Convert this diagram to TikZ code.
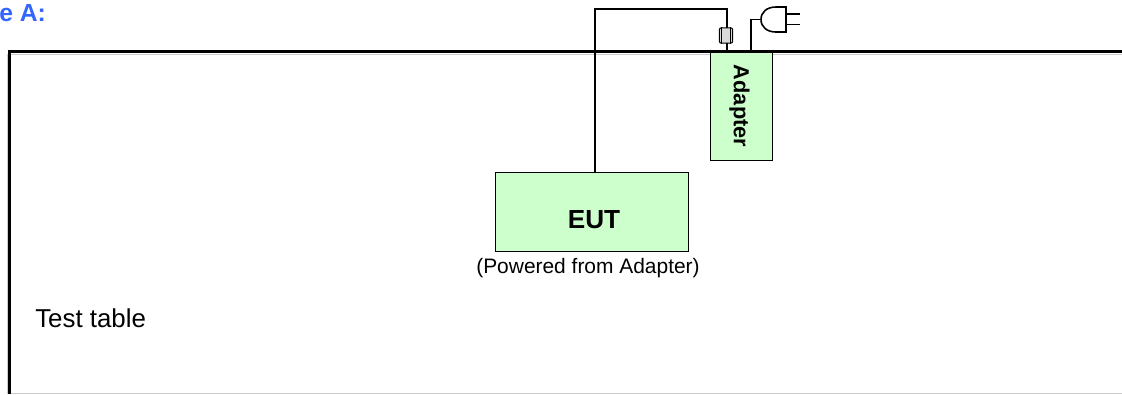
\documentclass[tikz,border=0pt]{standalone}
\usepackage{fontspec}
\setmainfont{Liberation Sans}
\usetikzlibrary{positioning,calc}
\definecolor{boxgreen}{HTML}{CCFFCC}
\definecolor{titleblue}{HTML}{3366FF}
\definecolor{ferritegray}{HTML}{D9D9D9}
\begin{document}
\begin{tikzpicture}[
    x=0.75pt, y=-0.75pt,
    cable/.style={draw=black, line width=1.2pt},
    unitbox/.style={draw=black, fill=boxgreen, line width=0.75pt, inner sep=0pt, font=\bfseries}
]
    \useasboundingbox (0, 0) rectangle (1122, 394);

    % 1. Test table
    \draw[draw=gray!40, line width=0.75pt] (7.5, 54) -| (1122, 393) -| (7.5, 54);
    \draw[draw=black, line width=2.5pt] (1122, 51.5) -- (9.5, 51.5) -- (9.5, 394);
    \node[anchor=west, inner sep=0pt, font=\fontsize{19.4}{23}\selectfont] (tablelabel) at (35, 318) {Test table};

    % 2. Title
    \node[anchor=west, inner sep=0pt, text=titleblue, font=\bfseries\fontsize{18.5}{22}\selectfont] (title) at (-1, 13) {e A:};

    % 3. Units
    \node[unitbox, minimum width=144.75pt, minimum height=59.25pt] (eut) at (591.5, 211.5) {};
    \node[inner sep=0pt, font=\bfseries\fontsize{19.6}{23}\selectfont] (eutlabel) at (594, 220) {EUT};
    \node[anchor=north, inner sep=0pt, font=\fontsize{15.7}{19}\selectfont] (eutnote) at (588, 258) {(Powered from Adapter)};
    \node[unitbox, minimum width=46pt, minimum height=81pt, font=\bfseries\fontsize{16.3}{20}\selectfont] (adapter) at (741.5, 106) {\hspace{-3pt}\rotatebox{-90}{Adapter}};

    % 4. Cable with ferrite
    \node[draw=black, fill=ferritegray, rounded corners=1.5pt, line width=0.75pt, minimum width=10pt, minimum height=11.5pt, inner sep=0pt] (ferrite) at (726, 35.5) {};
    \draw[draw=black, line width=0.6pt] ($(ferrite.north west)+(3,0)$) -- ($(ferrite.south west)+(3,0)$);
    \draw[draw=black, line width=0.6pt] ($(ferrite.north east)+(-3,0)$) -- ($(ferrite.south east)+(-3,0)$);
    \coordinate (bend) at (727, 9);
    \draw[cable] (595, 172) |- (bend) -- (727, 28);
    \draw[cable] (727, 43) -- (727, 51);

    % 5. Mains plug
    \coordinate (plugin) at (761, 19.5);
    \draw[cable] (751, 51) |- (plugin);
    \draw[cable] (786, 7) -- (776, 7) .. controls (767, 7) and (761, 12) .. (761, 19.5) .. controls (761, 27) and (767, 32) .. (776, 32) -- (786, 32) -- cycle;
    \draw[cable] (786, 14) -- (800, 14);
    \draw[cable] (786, 24.5) -- (800, 24.5);
\end{tikzpicture}
\end{document}
